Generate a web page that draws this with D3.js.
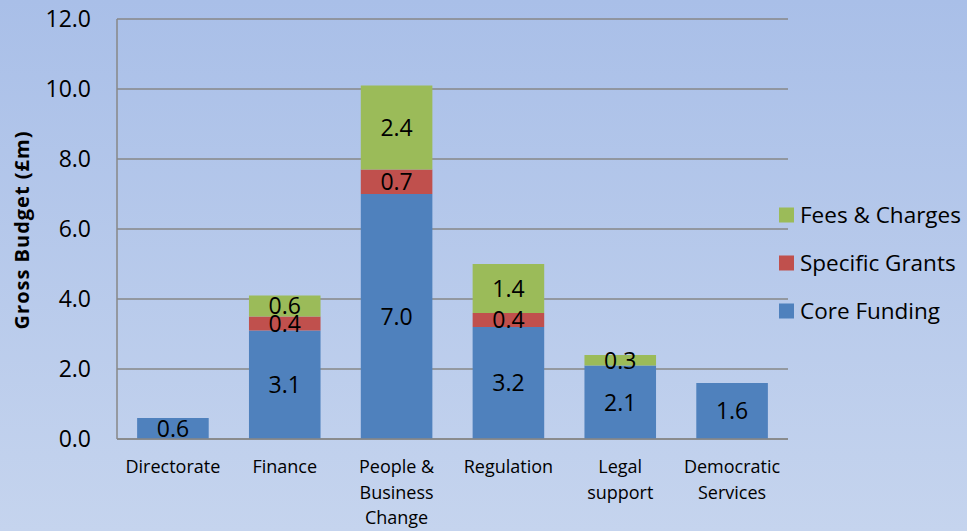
<!DOCTYPE html>
<html><head><meta charset="utf-8">
<script src="https://cdn.jsdelivr.net/npm/d3@7"></script>
<style>body{margin:0;padding:0;overflow:hidden}svg{display:block}</style>
</head><body>
<svg id="c" width="967" height="531"></svg>
<script>
const categories = [["Directorate"],["Finance"],["People &","Business","Change"],["Regulation"],["Legal","support"],["Democratic","Services"]];
const coreFunding = [0.6, 3.1, 7.0, 3.2, 2.1, 1.6];
const specificGrants = [0, 0.4, 0.7, 0.4, 0, 0];
const feesCharges = [0, 0.6, 2.4, 1.4, 0.3, 0];
const seriesNames = ["Core Funding","Specific Grants","Fees & Charges"];
const seriesColors = ["#4f81bd","#c0504d","#9bbb59"];
const yTicks = [0,2,4,6,8,10,12];

const svg = d3.select("#c");
const W=967,H=531;
const defs = svg.append("defs");
const g0 = defs.append("linearGradient").attr("id","bg").attr("x1",0).attr("y1",0).attr("x2",0).attr("y2",1);
g0.append("stop").attr("offset","0%").attr("stop-color","#a9bfe8");
g0.append("stop").attr("offset","100%").attr("stop-color","#c5d4ee");
svg.append("rect").attr("width",W).attr("height",H).attr("fill","url(#bg)");

const font = "'Open Sans', Lato, sans-serif";
const x0=117,x1=788,yTop=19,yBot=439;
const x = d3.scaleBand().domain(d3.range(categories.length)).range([x0,x1]).paddingInner(0.36).paddingOuter(0.18);
const y = d3.scaleLinear().domain([0,12]).range([yBot,yTop]);

// gridlines
svg.append("g").selectAll("line").data(yTicks).join("line")
  .attr("x1",x0).attr("x2",x1).attr("y1",d=>y(d)).attr("y2",d=>y(d))
  .attr("stroke","#878787").attr("stroke-width",1.5);
svg.append("line").attr("x1",x0).attr("x2",x0).attr("y1",yTop).attr("y2",yBot).attr("stroke","#878787").attr("stroke-width",1.5);

// y tick labels
svg.append("g").selectAll("text").data(yTicks).join("text")
  .attr("x",91).attr("y",d=>y(d)).attr("dy","0.36em").attr("text-anchor","end")
  .attr("font-family",font).attr("font-size",23).attr("fill","#000")
  .text(d=>d.toFixed(1));

// stacked data
const rows = categories.map((c,i)=>({i, core:coreFunding[i], grants:specificGrants[i], fees:feesCharges[i]}));
const keys=["core","grants","fees"];
const stack = d3.stack().keys(keys)(rows);
stack.forEach((s,k)=>{
  const gg = svg.append("g");
  gg.selectAll("rect").data(s.filter(d=>d[1]-d[0]>0)).join("rect")
    .attr("x",d=>x(d.data.i)).attr("width",x.bandwidth())
    .attr("y",d=>y(d[1])).attr("height",d=>y(d[0])-y(d[1]))
    .attr("fill",seriesColors[k]);
});
stack.forEach((s,k)=>{
  svg.append("g").selectAll("text").data(s.filter(d=>d[1]-d[0]>0)).join("text")
    .attr("x",d=>x(d.data.i)+x.bandwidth()/2).attr("y",d=>(y(d[0])+y(d[1]))/2)
    .attr("dy","0.36em").attr("text-anchor","middle")
    .attr("font-family",font).attr("font-size",23).attr("fill","#000")
    .text(d=>(d[1]-d[0]).toFixed(1));
});
// baseline over bars
svg.append("line").attr("x1",x0).attr("x2",x1).attr("y1",yBot).attr("y2",yBot).attr("stroke","#878787").attr("stroke-width",1.5);

// category labels
categories.forEach((lines,i)=>{
  const t = svg.append("text").attr("text-anchor","middle").attr("font-family",font).attr("font-size",18).attr("fill","#000");
  lines.forEach((l,j)=>t.append("tspan").attr("x",x(i)+x.bandwidth()/2).attr("y",473+j*25.5).text(l));
});

// y axis title
svg.append("text").attr("transform","translate(29,230) rotate(-90)").attr("text-anchor","middle")
  .attr("font-family",font).attr("font-size",20).attr("font-weight","bold").attr("letter-spacing",1).attr("fill","#000")
  .text("Gross Budget (£m)");

// legend
const legendOrder=[2,1,0];
legendOrder.forEach((k,j)=>{
  const ly = 215 + j*48;
  svg.append("rect").attr("x",779).attr("y",ly-7.5).attr("width",15).attr("height",15).attr("fill",seriesColors[k]);
  svg.append("text").attr("x",800).attr("y",ly).attr("dy","0.36em").attr("font-family",font).attr("font-size",22.5).attr("fill","#000").text(seriesNames[k]);
});
</script>
</body></html>
